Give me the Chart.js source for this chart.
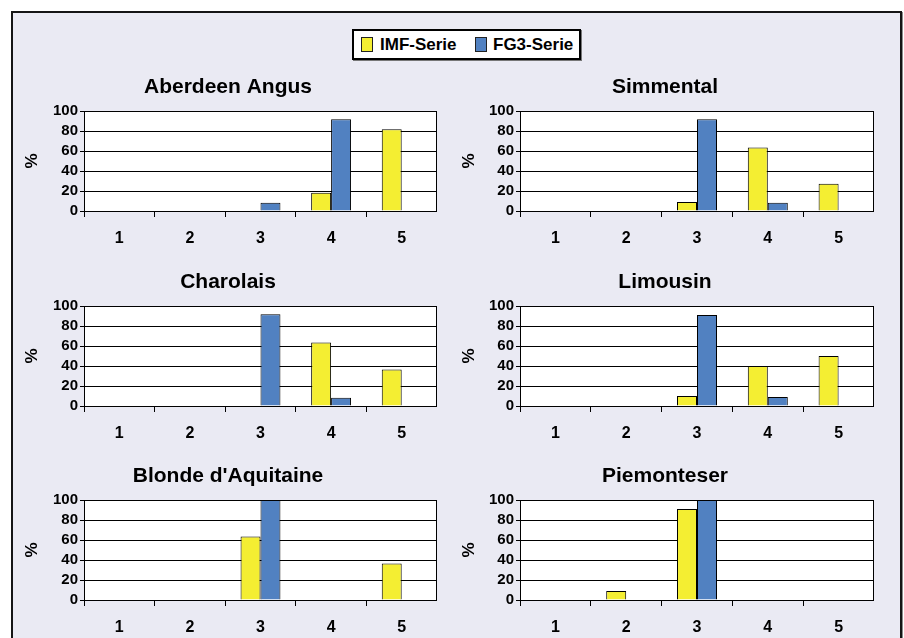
<!DOCTYPE html>
<html>
<head>
<meta charset="utf-8">
<script src="https://cdn.jsdelivr.net/npm/chart.js@4.4.1/dist/chart.umd.min.js"></script>
<style>
  html, body { margin: 0; padding: 0; background: #fff; }
  #page { position: relative; width: 904px; height: 638px; overflow: hidden; background: #fff;
          font-family: "Liberation Sans", Arial, sans-serif; }
  #frame { position: absolute; left: 11px; top: 11px; width: 887px; height: 660px;
           border: 2px solid #151515; background: #EAEAF3; box-shadow: 1px 1px 0 #8a8a8a; }
  #legend { position: absolute; left: 352px; top: 29px; width: 225px; height: 27px;
            border: 2px solid #000; background: #fff; box-shadow: 1px 1px 0 #777; }
  .sw { position: absolute; top: 6px; width: 10px; height: 13px; border: 1px solid #222; }
  .lt { position: absolute; top: 0; line-height: 27px; font-size: 17px; font-weight: bold; color: #000; white-space: nowrap; }
  canvas.panel { position: absolute; }
</style>
</head>
<body>
<div id="page">
  <div id="frame"></div>
  <div id="legend">
    <div class="sw" id="sw0" style="left:7px"></div><div class="lt" id="lt0" style="left:26px"></div>
    <div class="sw" id="sw1" style="left:121px"></div><div class="lt" id="lt1" style="left:139px"></div>
  </div>
</div>
<script>
// Score classes on the x axis and percentage ticks on the y axis
const categories = ['1', '2', '3', '4', '5'];
const yTicks = [0, 20, 40, 60, 80, 100];
const seriesNames = ['IMF-Serie', 'FG3-Serie'];
const breeds = ['Aberdeen Angus', 'Simmental', 'Charolais', 'Limousin', "Blonde d'Aquitaine", 'Piemonteser'];

// Share of animals per class (%), one pair of arrays per breed
const imfAngus     = [0, 0, 0, 18.2, 81.8];
const fg3Angus     = [0, 0, 8.3, 91.7, 0];
const imfSimmental = [0, 0, 9.1, 63.6, 27.3];
const fg3Simmental = [0, 0, 91.7, 8.3, 0];
const imfCharolais = [0, 0, 0, 63.6, 36.4];
const fg3Charolais = [0, 0, 91.7, 8.3, 0];
const imfLimousin  = [0, 0, 10, 40, 50];
const fg3Limousin  = [0, 0, 90.9, 9.1, 0];
const imfBlonde    = [0, 0, 63.6, 0, 36.4];
const fg3Blonde    = [0, 0, 100, 0, 0];
const imfPiemont   = [0, 9.1, 90.9, 0, 0];
const fg3Piemont   = [0, 0, 100, 0, 0];

const imfSeries = [imfAngus, imfSimmental, imfCharolais, imfLimousin, imfBlonde, imfPiemont];
const fg3Series = [fg3Angus, fg3Simmental, fg3Charolais, fg3Limousin, fg3Blonde, fg3Piemont];

const COLORS = ['#F4EE32', '#5181C1'];
const FONT = '"Liberation Sans", Arial, sans-serif';

// legend
document.getElementById('sw0').style.background = COLORS[0];
document.getElementById('sw1').style.background = COLORS[1];
document.getElementById('lt0').textContent = seriesNames[0];
document.getElementById('lt1').textContent = seriesNames[1];

// white plot area with a black frame
const plotFrame = {
  id: 'plotFrame',
  beforeDraw(chart) {
    const a = chart.chartArea, c = chart.ctx;
    c.save();
    c.fillStyle = '#fff';
    c.fillRect(a.left, a.top, a.right - a.left, a.bottom - a.top);
    c.restore();
  },
  afterDraw(chart) {
    const a = chart.chartArea, c = chart.ctx;
    c.save();
    c.strokeStyle = '#000';
    c.lineWidth = 1;
    c.strokeRect(Math.round(a.left) + 0.5, Math.round(a.top) + 0.5,
                 Math.round(a.right - a.left) - 1, Math.round(a.bottom - a.top));
    c.restore();
  }
};

const colLeft = [19, 456];
const axisWidth = [65, 64];
const rowTop = [70, 265, 459];
const W = 418, H = 177;

const page = document.getElementById('page');
breeds.forEach((name, i) => {
  const col = i % 2, row = Math.floor(i / 2);
  const cv = document.createElement('canvas');
  cv.className = 'panel';
  cv.width = W; cv.height = H;
  cv.style.left = colLeft[col] + 'px';
  cv.style.top = rowTop[row] + 'px';
  cv.style.width = W + 'px'; cv.style.height = H + 'px';
  page.appendChild(cv);

  new Chart(cv, {
    type: 'bar',
    data: {
      labels: categories,
      datasets: [
        { label: seriesNames[0], data: imfSeries[i], backgroundColor: COLORS[0], borderColor: '#000', borderWidth: 1 },
        { label: seriesNames[1], data: fg3Series[i], backgroundColor: COLORS[1], borderColor: '#000', borderWidth: 1 }
      ]
    },
    options: {
      responsive: false,
      animation: false,
      devicePixelRatio: 1,
      layout: { padding: 0 },
      datasets: { bar: { categoryPercentage: 0.565, barPercentage: 1 } },
      plugins: {
        legend: { display: false },
        tooltip: { enabled: false },
        title: {
          display: true, text: name, color: '#000',
          font: { family: FONT, size: 21, weight: 'bold', lineHeight: 1 },
          padding: { top: 7, bottom: 13 }
        }
      },
      scales: {
        x: {
          grid: { display: true, drawOnChartArea: false, drawTicks: true, tickLength: 6, color: '#000', offset: true },
          border: { display: true, color: '#000', width: 1 },
          ticks: { color: '#000', font: { family: FONT, size: 16, weight: 'bold' }, padding: 12, maxRotation: 0, autoSkip: false },
          afterFit: s => { s.height = 36; }
        },
        y: {
          min: 0, max: 100,
          afterBuildTicks: s => { s.ticks = yTicks.map(v => ({ value: v })); },
          grid: { color: '#000', tickLength: 4, drawTicks: true },
          border: { display: true, color: '#000', width: 1 },
          ticks: { color: '#000', font: { family: FONT, size: 15, weight: 'bold', lineHeight: 1 }, padding: 2, autoSkip: false },
          title: { display: true, text: '%', color: '#000', font: { family: FONT, size: 17, weight: 'bold' }, padding: { top: 3, bottom: 0 } },
          afterFit: s => { s.width = axisWidth[col]; }
        }
      }
    },
    plugins: [plotFrame]
  });
});
</script>
</body>
</html>
